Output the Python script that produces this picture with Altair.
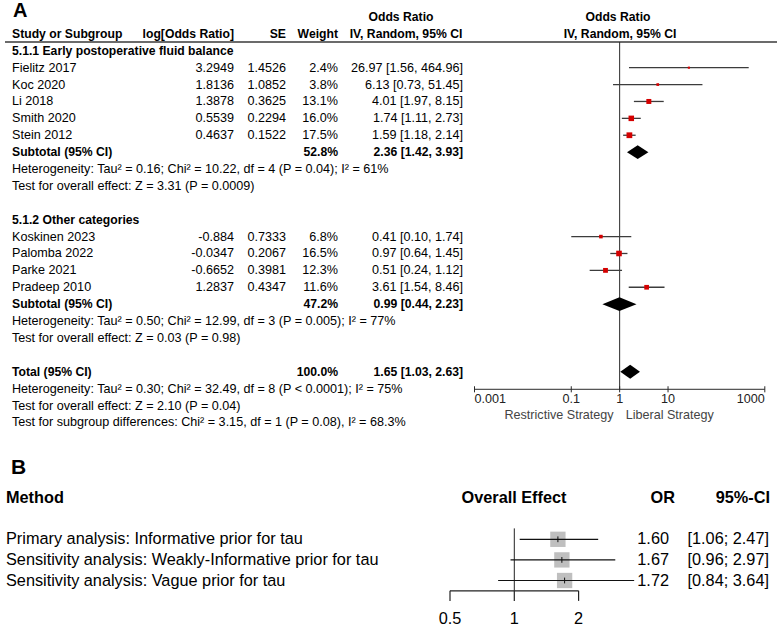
import altair as alt
import pandas as pd

FONT = "Liberation Sans"

# ---------------- Panel A: RevMan-style forest plot ----------------
study = ["Fielitz 2017", "Koc 2020", "Li 2018", "Smith 2020", "Stein 2012",
         "Koskinen 2023", "Palomba 2022", "Parke 2021", "Pradeep 2010"]
log_or = [3.2949, 1.8136, 1.3878, 0.5539, 0.4637, -0.884, -0.0347, -0.6652, 1.2837]
se = [1.4526, 1.0852, 0.3625, 0.2294, 0.1522, 0.7333, 0.2067, 0.3981, 0.4347]
weight = [2.4, 3.8, 13.1, 16.0, 17.5, 6.8, 16.5, 12.3, 11.6]
or_est = [26.97, 6.13, 4.01, 1.74, 1.59, 0.41, 0.97, 0.51, 3.61]
or_lo = [1.56, 0.73, 1.97, 1.11, 1.18, 0.10, 0.64, 0.24, 1.54]
or_hi = [464.96, 51.45, 8.15, 2.73, 2.14, 1.74, 1.45, 1.12, 8.46]
study_row = [2, 3, 4, 5, 6, 12, 13, 14, 15]

pool_label = ["Subtotal (95% CI)", "Subtotal (95% CI)", "Total (95% CI)"]
pool_weight = [52.8, 47.2, 100.0]
pool_est = [2.36, 0.99, 1.65]
pool_lo = [1.42, 0.44, 1.03]
pool_hi = [3.93, 2.23, 2.63]
pool_row = [7, 16, 20]

group_label = ["5.1.1 Early postoperative fluid balance", "5.1.2 Other categories"]
group_row = [1, 11]

note_text = [
    "Heterogeneity: Tau² = 0.16; Chi² = 10.22, df = 4 (P = 0.04); I² = 61%",
    "Test for overall effect: Z = 3.31 (P = 0.0009)",
    "Heterogeneity: Tau² = 0.50; Chi² = 12.99, df = 3 (P = 0.005); I² = 77%",
    "Test for overall effect: Z = 0.03 (P = 0.98)",
    "Heterogeneity: Tau² = 0.30; Chi² = 32.49, df = 8 (P < 0.0001); I² = 75%",
    "Test for overall effect: Z = 2.10 (P = 0.04)",
    "Test for subgroup differences: Chi² = 3.15, df = 1 (P = 0.08), I² = 68.3%",
]
note_row = [8, 9, 17, 18, 21, 22, 23]

header_text = ["Study or Subgroup", "log[Odds Ratio]", "SE", "Weight",
               "Odds Ratio", "IV, Random, 95% CI", "Odds Ratio", "IV, Random, 95% CI"]
header_x = [12, 234, 286, 338, 401, 406, 618, 620]
header_align = ["left", "right", "right", "right", "center", "center", "center", "center"]
header_row = [0, 0, 0, 0, -1, 0, -1, 0]

a_ticks = [0.001, 0.1, 1, 10, 1000]
a_tick_labels = ["0.001", "0.1", "1", "10", "1000"]
a_side_labels = ["Restrictive Strategy", "Liberal Strategy"]

# ---------------- Panel B: Bayesian sensitivity analyses ----------------
method = ["Primary analysis: Informative prior for tau",
          "Sensitivity analysis: Weakly-Informative prior for tau",
          "Sensitivity analysis: Vague prior for tau"]
b_or = [1.60, 1.67, 1.72]
b_lo = [1.06, 0.96, 0.84]
b_hi = [2.47, 2.97, 3.64]
b_row = [1, 2, 3]
b_ticks = [0.5, 1, 2]
b_tick_labels = ["0.5", "1", "2"]

# ---------------- layout (row units) ----------------
A_ROW_DOMAIN = [-1, 23]
A_ROW_RANGE = [17.0, 422.4]
A_X_RANGE = [474.5, 764.8]
A_HEADER_LINE = 0.48
A_AXIS = 21.04
A_TICK_HALF = 0.18
A_TICK_LABEL = 21.62
A_SIDE_LABEL = 22.58
A_PANEL_LABEL = -1.36
DIAMOND_HALF = 0.41
A_SIZE = 12.6
A_BOLD = 12.2

B_ROW_DOMAIN = [-1, 4]
B_ROW_RANGE = [498.1, 601.1]
B_X_RANGE = [450.0, 578.6]
B_AXIS = 3.5
B_TICK_END = 3.99
B_TICK_LABEL = 4.85
B_REF_TOP = 0.47
B_PANEL_LABEL = -2.45
B_EST_HALF = 0.14
B_SIZE = 16.3


def ya(field):
    return alt.Y(f"{field}:Q", axis=None,
                 scale=alt.Scale(domain=A_ROW_DOMAIN, range=A_ROW_RANGE, zero=False, nice=False))


def xa(field):
    return alt.X(f"{field}:Q", axis=None,
                 scale=alt.Scale(type="log", domain=[0.001, 1000], range=A_X_RANGE, nice=False))


def yb(field):
    return alt.Y(f"{field}:Q", axis=None,
                 scale=alt.Scale(domain=B_ROW_DOMAIN, range=B_ROW_RANGE, zero=False, nice=False))


def xb(field):
    return alt.X(f"{field}:Q", axis=None,
                 scale=alt.Scale(type="log", domain=[0.5, 2], range=B_X_RANGE, nice=False))


def text_layer(df, field, x, yenc, align="left", bold=False, size=A_SIZE, color="#000000"):
    return alt.Chart(df).mark_text(
        align=align, baseline="middle", fontSize=size, font=FONT,
        fontWeight="bold" if bold else "normal", color=color,
    ).encode(x=alt.value(x), y=yenc, text=f"{field}:N")


# ---- tables for panel A ----
studies = pd.DataFrame({
    "name": study,
    "logor_s": [str(v) for v in log_or],
    "se_s": [str(v) for v in se],
    "w_s": [f"{w:.1f}%" for w in weight],
    "ci_s": [f"{e:.2f} [{l:.2f}, {h:.2f}]" for e, l, h in zip(or_est, or_lo, or_hi)],
    "est": or_est, "lo": or_lo, "hi": or_hi, "w": weight, "row": study_row,
})
pools = pd.DataFrame({
    "name": pool_label,
    "w_s": [f"{w:.1f}%" for w in pool_weight],
    "ci_s": [f"{e:.2f} [{l:.2f}, {h:.2f}]" for e, l, h in zip(pool_est, pool_lo, pool_hi)],
    "row": pool_row,
})
groups = pd.DataFrame({"name": group_label, "row": group_row})
notes = pd.DataFrame({"name": note_text, "row": note_row})

diamond_pts = []
for i, (e, l, h, r) in enumerate(zip(pool_est, pool_lo, pool_hi, pool_row)):
    diamond_pts += [
        {"id": i, "x": l, "top": r, "bot": r},
        {"id": i, "x": e, "top": r - DIAMOND_HALF, "bot": r + DIAMOND_HALF},
        {"id": i, "x": h, "top": r, "bot": r},
    ]
diamonds = pd.DataFrame(diamond_pts)

a_layers = []
# column headers
for t, x, al, r in zip(header_text, header_x, header_align, header_row):
    a_layers.append(text_layer(pd.DataFrame({"t": [t], "row": [r]}), "t", x, ya("row"),
                               align=al, bold=True, size=A_BOLD))
a_layers.append(text_layer(pd.DataFrame({"t": ["A"], "row": [A_PANEL_LABEL]}), "t", 13, ya("row"),
                           bold=True, size=20))
# header underline
a_layers.append(alt.Chart(pd.DataFrame({"row": [A_HEADER_LINE]})).mark_rule(
    color="#3a3a3a", strokeWidth=1.4).encode(x=alt.value(5), x2=alt.value(777), y=ya("row")))
# text columns
a_layers += [
    text_layer(groups, "name", 12, ya("row"), bold=True, size=A_BOLD),
    text_layer(studies, "name", 12, ya("row")),
    text_layer(studies, "logor_s", 234, ya("row"), align="right"),
    text_layer(studies, "se_s", 286, ya("row"), align="right"),
    text_layer(studies, "w_s", 338, ya("row"), align="right"),
    text_layer(studies, "ci_s", 463, ya("row"), align="right"),
    text_layer(pools, "name", 12, ya("row"), bold=True, size=A_BOLD),
    text_layer(pools, "w_s", 338, ya("row"), align="right", bold=True, size=A_BOLD),
    text_layer(pools, "ci_s", 463, ya("row"), align="right", bold=True, size=A_BOLD),
    text_layer(notes, "name", 12, ya("row")),
]
# line of no effect
a_layers.append(alt.Chart(pd.DataFrame({"x": [1], "r1": [A_HEADER_LINE], "r2": [A_AXIS]})).mark_rule(
    color="#2a2a2a", strokeWidth=1).encode(x=xa("x"), y=ya("r1"), y2=alt.Y2("r2")))
# confidence intervals and study squares
a_layers.append(alt.Chart(studies).mark_rule(color="#3c3c3c", strokeWidth=1.3).encode(
    x=xa("lo"), x2=alt.X2("hi"), y=ya("row")))
a_layers.append(alt.Chart(studies).mark_square(color="#d40000", opacity=1).encode(
    x=xa("est"), y=ya("row"),
    size=alt.Size("w:Q", legend=None, scale=alt.Scale(domain=[0, 20], range=[0, 38]))))
# pooled diamonds
a_layers.append(alt.Chart(diamonds).mark_area(color="#000000", opacity=1).encode(
    x=xa("x"), y=ya("top"), y2=alt.Y2("bot"), detail="id:N"))
# axis
a_layers.append(alt.Chart(pd.DataFrame({"lo": [a_ticks[0]], "hi": [a_ticks[-1]], "row": [A_AXIS]}))
                .mark_rule(color="#2a2a2a", strokeWidth=1).encode(x=xa("lo"), x2=alt.X2("hi"), y=ya("row")))
a_tick_df = pd.DataFrame({"x": a_ticks, "lab": a_tick_labels,
                          "r1": [A_AXIS - A_TICK_HALF] * len(a_ticks),
                          "r2": [A_AXIS + A_TICK_HALF] * len(a_ticks),
                          "rl": [A_TICK_LABEL] * len(a_ticks)})
a_layers.append(alt.Chart(a_tick_df).mark_rule(color="#2a2a2a", strokeWidth=1).encode(
    x=xa("x"), y=ya("r1"), y2=alt.Y2("r2")))
for sl, al in [(slice(0, 1), "left"), (slice(1, -1), "center"), (slice(-1, None), "right")]:
    a_layers.append(alt.Chart(a_tick_df.iloc[sl]).mark_text(
        align=al, baseline="middle", fontSize=A_SIZE, font=FONT, color="#222222").encode(
        x=xa("x"), y=ya("rl"), text="lab:N"))
side_df = pd.DataFrame({"x": [1, 1], "lab": a_side_labels, "row": [A_SIDE_LABEL] * 2})
a_layers.append(alt.Chart(side_df.iloc[:1]).mark_text(
    align="right", baseline="middle", fontSize=A_SIZE, font=FONT, color="#444444", dx=-6).encode(
    x=xa("x"), y=ya("row"), text="lab:N"))
a_layers.append(alt.Chart(side_df.iloc[1:]).mark_text(
    align="left", baseline="middle", fontSize=A_SIZE, font=FONT, color="#444444", dx=6).encode(
    x=xa("x"), y=ya("row"), text="lab:N"))

# ---- panel B ----
bdf = pd.DataFrame({
    "method": method, "est": b_or, "lo": b_lo, "hi": b_hi, "row": b_row,
    "or_s": [f"{v:.2f}" for v in b_or],
    "ci_s": [f"[{l:.2f}; {h:.2f}]" for l, h in zip(b_lo, b_hi)],
})
b_layers = [
    text_layer(pd.DataFrame({"t": ["B"], "row": [B_PANEL_LABEL]}), "t", 11, yb("row"), bold=True, size=21),
    text_layer(pd.DataFrame({"t": ["Method"], "row": [-1]}), "t", 6, yb("row"), bold=True, size=B_SIZE),
    text_layer(pd.DataFrame({"t": ["Overall Effect"], "row": [-1]}), "t", 514, yb("row"),
               align="center", bold=True, size=B_SIZE),
    text_layer(pd.DataFrame({"t": ["OR"], "row": [-1]}), "t", 675, yb("row"),
               align="right", bold=True, size=B_SIZE),
    text_layer(pd.DataFrame({"t": ["95%-CI"], "row": [-1]}), "t", 770, yb("row"),
               align="right", bold=True, size=B_SIZE),
    text_layer(bdf, "method", 6, yb("row"), size=B_SIZE),
    text_layer(bdf, "or_s", 669, yb("row"), align="right", size=B_SIZE),
    text_layer(bdf, "ci_s", 769, yb("row"), align="right", size=B_SIZE),
]
b_layers.append(alt.Chart(pd.DataFrame({"x": [1], "r1": [B_REF_TOP], "r2": [B_AXIS]})).mark_rule(
    color="#222222", strokeWidth=1).encode(x=xb("x"), y=yb("r1"), y2=alt.Y2("r2")))
b_layers.append(alt.Chart(bdf).mark_square(color="#bfbfbf", opacity=1, size=235).encode(
    x=xb("est"), y=yb("row")))
b_layers.append(alt.Chart(bdf).mark_rule(color="#111111", strokeWidth=1.2).encode(
    x=xb("lo"), x2=alt.X2("hi"), y=yb("row")))
b_layers.append(alt.Chart(bdf).transform_calculate(
    r1=f"datum.row - {B_EST_HALF}", r2=f"datum.row + {B_EST_HALF}").mark_rule(
    color="#111111", strokeWidth=1).encode(x=xb("est"), y=yb("r1"), y2=alt.Y2("r2")))
b_layers.append(alt.Chart(pd.DataFrame({"lo": [b_ticks[0]], "hi": [b_ticks[-1]], "row": [B_AXIS]}))
                .mark_rule(color="#222222", strokeWidth=1.2).encode(x=xb("lo"), x2=alt.X2("hi"), y=yb("row")))
b_tick_df = pd.DataFrame({"x": b_ticks, "lab": b_tick_labels,
                          "r1": [B_AXIS] * 3, "r2": [B_TICK_END] * 3, "rl": [B_TICK_LABEL] * 3})
b_layers.append(alt.Chart(b_tick_df).mark_rule(color="#222222", strokeWidth=1.2).encode(
    x=xb("x"), y=yb("r1"), y2=alt.Y2("r2")))
b_layers.append(alt.Chart(b_tick_df).mark_text(
    align="center", baseline="middle", fontSize=B_SIZE, font=FONT, color="#000000").encode(
    x=xb("x"), y=yb("rl"), text="lab:N"))

chart = alt.layer(*a_layers, *b_layers).resolve_scale(
    x="independent", y="independent", size="independent"
).properties(
    width=777, height=628, autosize=alt.AutoSizeParams(type="none"), padding=0,
    background="white",
).configure_view(stroke=None)

chart.save("out.html", embed_options={"renderer": "svg", "actions": False})
